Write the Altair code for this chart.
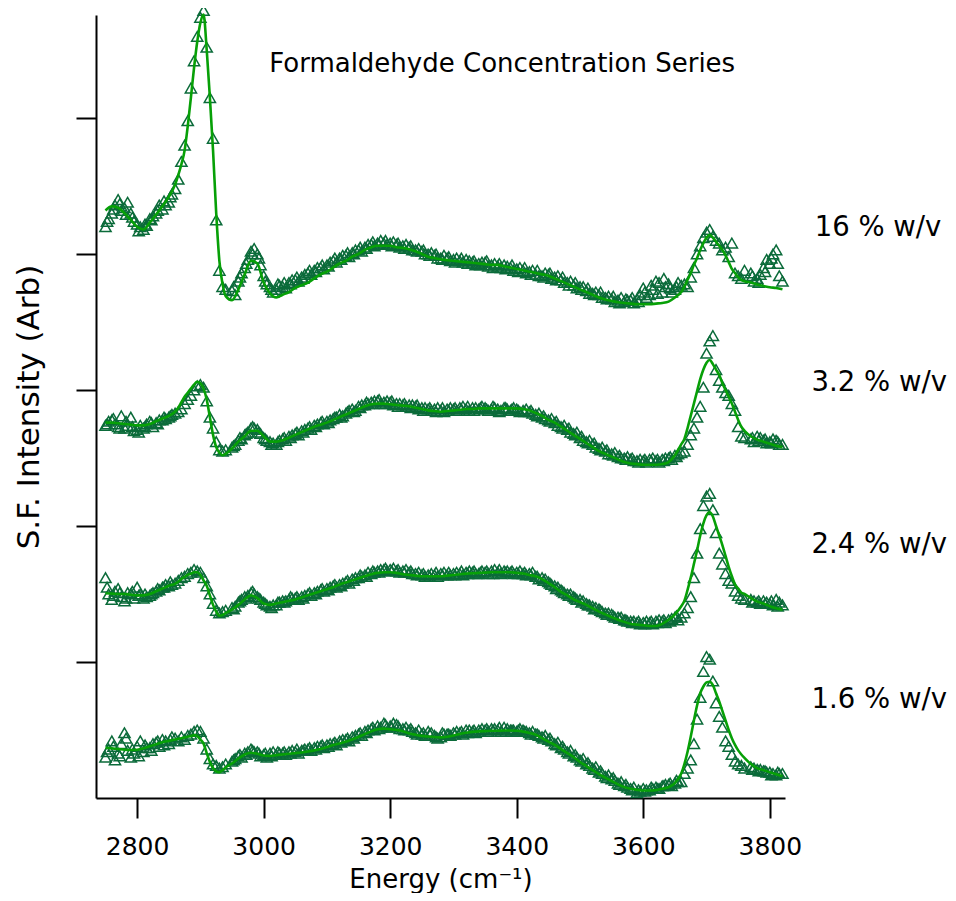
import altair as alt
import pandas as pd

# sample positions (cm^-1)
x_grid = (list(range(2750, 2861, 10)) + list(range(2865, 2941, 5)) +
          list(range(2950, 3661, 10)) + list(range(3665, 3761, 5)) +
          list(range(3770, 3821, 10)))
# in-between sample positions
x_grid_b = (list(range(2755, 2856, 10)) + list(range(2955, 3656, 10)) +
            list(range(3775, 3816, 10)))
x_grid_c = [v - 2.5 for v in x_grid_b]

series_names = ["16 % w/v", "3.2 % w/v", "2.4 % w/v", "1.6 % w/v"]

data_16 = [
    4.20, 4.30, 4.40, 4.34, 4.30, 4.22, 4.18, 4.26, 4.30, 4.33, 4.38, 4.48,
    4.55, 4.68, 4.80, 4.98, 5.22, 5.42, 5.60, 5.74, 5.79, 5.52, 5.15, 4.85, 4.25, 3.88, 3.76, 3.74,
    3.73, 3.80, 3.90, 4.02, 4.00, 3.84, 3.76, 3.74, 3.76, 3.79,
    3.81, 3.83, 3.86, 3.88, 3.90, 3.92, 3.95, 3.97, 3.99, 4.01,
    4.03, 4.05, 4.07, 4.08, 4.08, 4.08, 4.07, 4.06, 4.05, 4.03,
    4.02, 4.00, 3.99, 3.97, 3.97, 3.96, 3.95, 3.96, 3.94, 3.93,
    3.94, 3.92, 3.91, 3.92, 3.90, 3.89, 3.88, 3.87, 3.85, 3.84,
    3.85, 3.83, 3.81, 3.79, 3.77, 3.76, 3.73, 3.71, 3.70, 3.68,
    3.67, 3.66, 3.65, 3.66, 3.67, 3.75, 3.70, 3.80, 3.72, 3.78,
    3.74, 3.77,
    3.78, 3.76, 3.83, 3.90, 4.00, 4.06, 4.12, 4.16, 4.18, 4.13, 4.10, 4.08, 4.03, 4.05, 3.98, 4.08, 3.86, 3.84, 3.82, 3.88,
    3.86, 3.82, 3.90, 3.93, 4.03, 3.80,
]
data_16_b = [
    4.26, 4.36, 4.32, 4.38, 4.24, 4.20, 4.21, 4.28, 4.36, 4.36, 4.44,
    3.70, 3.86, 3.96, 4.04, 3.92, 3.78, 3.72, 3.77, 3.75, 3.81,
    3.80, 3.85, 3.85, 3.90, 3.89, 3.94, 3.94, 3.99, 3.98, 4.03,
    4.02, 4.07, 4.06, 4.10, 4.07, 4.09, 4.05, 4.07, 4.03, 4.04,
    4.00, 4.01, 3.97, 3.99, 3.95, 3.97, 3.94, 3.95, 3.92, 3.94,
    3.91, 3.93, 3.90, 3.91, 3.88, 3.90, 3.86, 3.88, 3.84, 3.86,
    3.82, 3.84, 3.79, 3.80, 3.75, 3.76, 3.71, 3.72, 3.68, 3.69,
    3.65, 3.68, 3.66, 3.64, 3.70, 3.68, 3.74, 3.79, 3.76, 3.72,
    3.79,
    3.80, 3.85, 3.96, 4.00, 3.84,
]
data_16_c = [
    4.24, 4.33, 4.37, 4.29, 4.27, 4.17, 4.22, 4.25, 4.32, 4.39, 4.42,
    3.76, 3.83, 3.93, 4.00, 3.97, 3.80, 3.74, 3.78, 3.79, 3.78,
    3.83, 3.82, 3.88, 3.87, 3.92, 3.91, 3.97, 3.96, 4.01, 4.00,
    4.05, 4.04, 4.09, 4.07, 4.10, 4.06, 4.08, 4.04, 4.06, 4.02,
    4.03, 3.99, 4.00, 3.96, 3.98, 3.94, 3.97, 3.93, 3.95, 3.92,
    3.95, 3.90, 3.93, 3.89, 3.92, 3.87, 3.90, 3.85, 3.88, 3.83,
    3.86, 3.81, 3.83, 3.77, 3.79, 3.74, 3.75, 3.70, 3.72, 3.67,
    3.69, 3.64, 3.67, 3.68, 3.65, 3.72, 3.77, 3.71, 3.82, 3.75,
    3.76,
    3.84, 3.79, 3.87, 3.97, 3.93,
]
fit_16 = [
    4.32, 4.35, 4.34, 4.30, 4.25, 4.20, 4.18, 4.23, 4.29, 4.35, 4.42, 4.51,
    4.58, 4.66, 4.76, 4.94, 5.15, 5.37, 5.56, 5.70, 5.76, 5.50, 5.15, 4.76, 4.30, 3.95, 3.78, 3.69,
    3.66, 3.74, 3.85, 3.95, 3.93, 3.79, 3.71, 3.68, 3.70, 3.72,
    3.75, 3.77, 3.79, 3.82, 3.85, 3.87, 3.90, 3.93, 3.95, 3.98,
    4.00, 4.03, 4.05, 4.06, 4.06, 4.06, 4.05, 4.045, 4.035, 4.02,
    4.00, 3.98, 3.97, 3.96, 3.955, 3.95, 3.945, 3.94, 3.935, 3.93,
    3.925, 3.92, 3.92, 3.91, 3.90, 3.89, 3.88, 3.87, 3.86, 3.85,
    3.84, 3.82, 3.80, 3.78, 3.76, 3.74, 3.72, 3.70, 3.68, 3.665,
    3.655, 3.645, 3.64, 3.635, 3.63, 3.63, 3.63, 3.635, 3.64, 3.65,
    3.68, 3.72,
    3.76, 3.81, 3.86, 3.92, 3.97, 4.03, 4.08, 4.12, 4.14, 4.12, 4.09, 4.06, 4.03, 3.99, 3.94, 3.89, 3.86, 3.83, 3.81, 3.80,
    3.79, 3.775, 3.765, 3.755, 3.75, 3.74,
]

data_32 = [
    2.74, 2.78, 2.73, 2.72, 2.80, 2.71, 2.72, 2.77, 2.76, 2.78, 2.80, 2.83,
    2.84, 2.86, 2.90, 2.93, 2.96, 3.00, 3.03, 3.04, 3.02, 2.92, 2.80, 2.72, 2.62, 2.56, 2.55, 2.56,
    2.58, 2.63, 2.67, 2.72, 2.71, 2.65, 2.62, 2.60, 2.64, 2.66,
    2.68, 2.70, 2.72, 2.74, 2.76, 2.77, 2.79, 2.82, 2.83, 2.86,
    2.88, 2.89, 2.91, 2.92, 2.91, 2.91, 2.90, 2.89, 2.89, 2.88,
    2.87, 2.86, 2.86, 2.85, 2.86, 2.86, 2.87, 2.86, 2.87, 2.86,
    2.87, 2.86, 2.86, 2.87, 2.85, 2.86, 2.85, 2.84, 2.82, 2.80,
    2.78, 2.76, 2.73, 2.71, 2.68, 2.65, 2.62, 2.60, 2.57, 2.55,
    2.53, 2.51, 2.50, 2.49, 2.48, 2.48, 2.49, 2.48, 2.49, 2.50,
    2.52, 2.54,
    2.55, 2.60, 2.67, 2.72, 2.80, 2.88, 3.02, 3.27, 3.36, 3.40, 3.15, 3.07, 3.02, 2.98, 2.96, 2.90, 2.85, 2.73, 2.66, 2.65,
    2.64, 2.66, 2.63, 2.62, 2.63, 2.60,
]
data_32_b = [
    2.77, 2.75, 2.81, 2.74, 2.70, 2.74, 2.75, 2.73, 2.78, 2.79, 2.82,
    2.60, 2.64, 2.69, 2.72, 2.68, 2.63, 2.61, 2.63, 2.63, 2.67,
    2.67, 2.71, 2.71, 2.75, 2.75, 2.78, 2.80, 2.81, 2.85, 2.85,
    2.89, 2.90, 2.92, 2.90, 2.92, 2.89, 2.90, 2.88, 2.89, 2.86,
    2.87, 2.85, 2.87, 2.84, 2.87, 2.85, 2.88, 2.85, 2.87, 2.88,
    2.85, 2.87, 2.85, 2.86, 2.87, 2.84, 2.86, 2.83, 2.83, 2.79,
    2.79, 2.74, 2.74, 2.69, 2.69, 2.63, 2.63, 2.58, 2.58, 2.53,
    2.54, 2.50, 2.51, 2.48, 2.49, 2.47, 2.50, 2.47, 2.50, 2.49,
    2.53,
    2.62, 2.65, 2.61, 2.64, 2.60,
]
data_32_c = [
    2.75, 2.79, 2.72, 2.77, 2.73, 2.69, 2.73, 2.76, 2.75, 2.80, 2.81,
    2.59, 2.65, 2.68, 2.73, 2.69, 2.64, 2.60, 2.62, 2.65, 2.65,
    2.69, 2.69, 2.73, 2.73, 2.77, 2.76, 2.80, 2.80, 2.84, 2.84,
    2.87, 2.91, 2.90, 2.93, 2.90, 2.92, 2.88, 2.90, 2.87, 2.89,
    2.85, 2.87, 2.84, 2.87, 2.85, 2.87, 2.86, 2.88, 2.85, 2.87,
    2.86, 2.88, 2.84, 2.87, 2.86, 2.85, 2.84, 2.85, 2.81, 2.81,
    2.77, 2.77, 2.72, 2.72, 2.67, 2.66, 2.61, 2.61, 2.56, 2.56,
    2.52, 2.52, 2.49, 2.50, 2.47, 2.49, 2.48, 2.49, 2.48, 2.51,
    2.51,
    2.65, 2.63, 2.64, 2.61, 2.62,
]
fit_32 = [
    2.76, 2.76, 2.755, 2.75, 2.745, 2.74, 2.74, 2.75, 2.77, 2.79, 2.81, 2.84,
    2.87, 2.91, 2.95, 2.98, 3.01, 3.04, 3.06, 3.05, 3.01, 2.93, 2.80, 2.67, 2.58, 2.54, 2.52, 2.53,
    2.57, 2.62, 2.66, 2.70, 2.70, 2.66, 2.62, 2.62, 2.63, 2.65,
    2.67, 2.69, 2.71, 2.73, 2.745, 2.76, 2.78, 2.80, 2.82, 2.84,
    2.86, 2.88, 2.895, 2.90, 2.90, 2.895, 2.89, 2.885, 2.88, 2.87,
    2.86, 2.85, 2.845, 2.84, 2.845, 2.85, 2.855, 2.86, 2.86, 2.865,
    2.865, 2.865, 2.865, 2.865, 2.865, 2.865, 2.86, 2.85, 2.83, 2.81,
    2.78, 2.76, 2.73, 2.70, 2.67, 2.64, 2.61, 2.58, 2.55, 2.53,
    2.51, 2.49, 2.47, 2.46, 2.455, 2.45, 2.45, 2.45, 2.455, 2.47,
    2.52, 2.60,
    2.64, 2.72, 2.81, 2.90, 2.99, 3.08, 3.15, 3.20, 3.22, 3.19, 3.15, 3.11, 3.05, 3.00, 2.95, 2.90, 2.84, 2.78, 2.73, 2.70,
    2.66, 2.635, 2.62, 2.605, 2.59, 2.58,
]

data_24 = [
    1.62, 1.46, 1.54, 1.45, 1.50, 1.55, 1.47, 1.49, 1.52, 1.55, 1.56, 1.58,
    1.60, 1.62, 1.63, 1.65, 1.66, 1.68, 1.67, 1.66, 1.62, 1.56, 1.50, 1.43, 1.38, 1.36, 1.37, 1.38,
    1.40, 1.44, 1.48, 1.51, 1.48, 1.44, 1.41, 1.42, 1.45, 1.46,
    1.47, 1.48, 1.50, 1.51, 1.53, 1.54, 1.56, 1.57, 1.59, 1.61,
    1.62, 1.64, 1.65, 1.67, 1.68, 1.68, 1.67, 1.67, 1.66, 1.65,
    1.64, 1.64, 1.64, 1.65, 1.64, 1.65, 1.65, 1.66, 1.66, 1.65,
    1.66, 1.67, 1.66, 1.67, 1.66, 1.66, 1.65, 1.65, 1.63, 1.62,
    1.59, 1.56, 1.53, 1.50, 1.48, 1.46, 1.43, 1.41, 1.39, 1.36,
    1.35, 1.33, 1.31, 1.30, 1.29, 1.29, 1.29, 1.30, 1.30, 1.31,
    1.33, 1.33,
    1.36, 1.40, 1.48, 1.62, 1.80, 1.98, 2.15, 2.22, 2.24, 2.12, 1.95, 1.80, 1.72, 1.65, 1.60, 1.58, 1.52, 1.49, 1.47, 1.46,
    1.46, 1.44, 1.45, 1.43, 1.46, 1.42,
]
data_24_b = [
    1.50, 1.52, 1.48, 1.51, 1.47, 1.50, 1.48, 1.51, 1.53, 1.57, 1.57,
    1.41, 1.46, 1.49, 1.50, 1.46, 1.42, 1.42, 1.44, 1.45, 1.47,
    1.46, 1.49, 1.49, 1.52, 1.52, 1.55, 1.55, 1.58, 1.58, 1.62,
    1.63, 1.66, 1.66, 1.68, 1.67, 1.69, 1.66, 1.68, 1.65, 1.66,
    1.63, 1.65, 1.63, 1.66, 1.64, 1.66, 1.64, 1.67, 1.65, 1.67,
    1.65, 1.68, 1.65, 1.67, 1.65, 1.67, 1.64, 1.66, 1.61, 1.61,
    1.57, 1.55, 1.51, 1.50, 1.46, 1.45, 1.42, 1.40, 1.37, 1.36,
    1.33, 1.33, 1.30, 1.30, 1.28, 1.30, 1.28, 1.31, 1.29, 1.32,
    1.31,
    1.45, 1.43, 1.44, 1.42, 1.44,
]
data_24_c = [
    1.55, 1.49, 1.51, 1.47, 1.52, 1.49, 1.50, 1.50, 1.54, 1.55, 1.59,
    1.39, 1.45, 1.47, 1.52, 1.47, 1.43, 1.40, 1.44, 1.44, 1.48,
    1.48, 1.47, 1.51, 1.50, 1.54, 1.53, 1.57, 1.56, 1.60, 1.60,
    1.64, 1.63, 1.67, 1.66, 1.69, 1.67, 1.68, 1.66, 1.67, 1.64,
    1.65, 1.63, 1.66, 1.64, 1.66, 1.64, 1.67, 1.65, 1.67, 1.66,
    1.67, 1.65, 1.68, 1.66, 1.67, 1.65, 1.66, 1.64, 1.63, 1.60,
    1.58, 1.54, 1.52, 1.49, 1.47, 1.44, 1.42, 1.39, 1.38, 1.35,
    1.34, 1.32, 1.31, 1.29, 1.30, 1.28, 1.30, 1.29, 1.31, 1.30,
    1.34,
    1.44, 1.45, 1.43, 1.45, 1.41,
]
fit_24 = [
    1.505, 1.503, 1.50, 1.50, 1.495, 1.49, 1.49, 1.50, 1.52, 1.54, 1.56, 1.575,
    1.59, 1.61, 1.625, 1.64, 1.65, 1.66, 1.66, 1.64, 1.60, 1.56, 1.49, 1.42, 1.37, 1.34, 1.345, 1.36,
    1.385, 1.42, 1.46, 1.49, 1.47, 1.43, 1.42, 1.43, 1.44, 1.45,
    1.46, 1.475, 1.49, 1.505, 1.52, 1.535, 1.55, 1.57, 1.585, 1.60,
    1.615, 1.63, 1.645, 1.655, 1.66, 1.66, 1.655, 1.645, 1.64, 1.635,
    1.63, 1.63, 1.63, 1.63, 1.635, 1.64, 1.645, 1.65, 1.652, 1.655,
    1.657, 1.66, 1.66, 1.66, 1.66, 1.655, 1.65, 1.64, 1.63, 1.61,
    1.58, 1.55, 1.515, 1.49, 1.46, 1.44, 1.42, 1.395, 1.37, 1.35,
    1.33, 1.31, 1.295, 1.28, 1.275, 1.27, 1.265, 1.265, 1.28, 1.31,
    1.35, 1.41,
    1.45, 1.53, 1.62, 1.72, 1.82, 1.93, 2.02, 2.08, 2.10, 2.07, 2.00, 1.93, 1.86, 1.78, 1.70, 1.63, 1.57, 1.54, 1.51, 1.50,
    1.47, 1.445, 1.43, 1.41, 1.395, 1.385,
]

data_16low = [
    0.30, 0.42, 0.33, 0.48, 0.30, 0.38, 0.34, 0.37, 0.41, 0.43, 0.40, 0.44,
    0.42, 0.45, 0.43, 0.46, 0.47, 0.49, 0.50, 0.49, 0.44, 0.36, 0.29, 0.25, 0.24, 0.22, 0.23, 0.25,
    0.27, 0.31, 0.33, 0.36, 0.34, 0.32, 0.33, 0.32, 0.33, 0.34,
    0.34, 0.35, 0.36, 0.37, 0.38, 0.39, 0.40, 0.42, 0.43, 0.45,
    0.47, 0.49, 0.51, 0.53, 0.55, 0.53, 0.54, 0.51, 0.50, 0.48,
    0.47, 0.49, 0.46, 0.45, 0.47, 0.48, 0.48, 0.50, 0.49, 0.50,
    0.50, 0.51, 0.50, 0.52, 0.50, 0.49, 0.50, 0.48, 0.47, 0.45,
    0.43, 0.40, 0.37, 0.34, 0.31, 0.28, 0.25, 0.22, 0.19, 0.16,
    0.14, 0.11, 0.09, 0.07, 0.04, 0.07, 0.06, 0.08, 0.09, 0.10,
    0.11, 0.12,
    0.18, 0.22, 0.28, 0.40, 0.58, 0.74, 0.93, 1.04, 1.02, 0.86, 0.70, 0.60, 0.52, 0.42, 0.38, 0.32, 0.27, 0.25, 0.24, 0.22,
    0.23, 0.21, 0.20, 0.19, 0.17, 0.18,
]
data_16low_b = [
    0.36, 0.28, 0.40, 0.35, 0.33, 0.42, 0.37, 0.40, 0.38, 0.42, 0.45,
    0.29, 0.30, 0.34, 0.34, 0.31, 0.30, 0.34, 0.33, 0.32, 0.35,
    0.33, 0.36, 0.35, 0.38, 0.37, 0.40, 0.39, 0.43, 0.42, 0.46,
    0.46, 0.50, 0.50, 0.52, 0.52, 0.55, 0.51, 0.52, 0.49, 0.50,
    0.46, 0.48, 0.44, 0.47, 0.46, 0.49, 0.47, 0.50, 0.48, 0.51,
    0.49, 0.51, 0.49, 0.51, 0.50, 0.51, 0.49, 0.49, 0.46, 0.46,
    0.42, 0.41, 0.36, 0.35, 0.30, 0.29, 0.24, 0.23, 0.18, 0.17,
    0.13, 0.12, 0.08, 0.08, 0.05, 0.06, 0.07, 0.07, 0.10, 0.09,
    0.12,
    0.22, 0.21, 0.19, 0.18, 0.18,
]
data_16low_c = [
    0.34, 0.38, 0.31, 0.44, 0.36, 0.31, 0.39, 0.35, 0.42, 0.39, 0.43,
    0.28, 0.32, 0.32, 0.35, 0.33, 0.33, 0.31, 0.34, 0.34, 0.33,
    0.36, 0.35, 0.37, 0.36, 0.39, 0.38, 0.41, 0.41, 0.44, 0.44,
    0.48, 0.48, 0.52, 0.51, 0.54, 0.52, 0.53, 0.50, 0.51, 0.47,
    0.48, 0.47, 0.45, 0.48, 0.47, 0.47, 0.49, 0.48, 0.50, 0.49,
    0.51, 0.50, 0.52, 0.49, 0.50, 0.50, 0.49, 0.47, 0.47, 0.44,
    0.44, 0.39, 0.38, 0.33, 0.32, 0.27, 0.26, 0.21, 0.20, 0.15,
    0.15, 0.10, 0.10, 0.06, 0.06, 0.05, 0.08, 0.07, 0.09, 0.11,
    0.13,
    0.21, 0.20, 0.20, 0.17, 0.19,
]
fit_16low = [
    0.37, 0.365, 0.36, 0.355, 0.353, 0.355, 0.365, 0.38, 0.395, 0.41, 0.42, 0.43,
    0.435, 0.44, 0.445, 0.45, 0.455, 0.462, 0.455, 0.43, 0.40, 0.33, 0.265, 0.22, 0.195, 0.19, 0.205, 0.225,
    0.255, 0.29, 0.32, 0.333, 0.325, 0.312, 0.31, 0.315, 0.32, 0.325,
    0.33, 0.335, 0.342, 0.35, 0.36, 0.375, 0.39, 0.40, 0.415, 0.43,
    0.45, 0.47, 0.49, 0.505, 0.51, 0.505, 0.50, 0.49, 0.475, 0.465,
    0.457, 0.452, 0.448, 0.446, 0.45, 0.46, 0.47, 0.48, 0.486, 0.49,
    0.492, 0.494, 0.495, 0.496, 0.496, 0.494, 0.488, 0.478, 0.465, 0.44,
    0.415, 0.39, 0.36, 0.33, 0.30, 0.265, 0.235, 0.205, 0.175, 0.15,
    0.125, 0.10, 0.08, 0.068, 0.06, 0.055, 0.055, 0.058, 0.068, 0.08,
    0.11, 0.18,
    0.25, 0.34, 0.45, 0.57, 0.68, 0.77, 0.82, 0.85, 0.855, 0.83, 0.77, 0.71, 0.64, 0.57, 0.50, 0.44, 0.39, 0.35, 0.32, 0.295,
    0.25, 0.22, 0.205, 0.19, 0.175, 0.16,
]

# label anchors (data units)
label_x = [3871, 3866, 3866, 3866]
label_y = [4.19, 3.05, 1.86, 0.72]

x_ticks = [2800, 3000, 3200, 3400, 3600, 3800]
y_ticks = [1, 2, 3, 4, 5]

all_data = [data_16, data_32, data_24, data_16low]
all_data_b = [data_16_b, data_32_b, data_24_b, data_16low_b]
all_data_c = [data_16_c, data_32_c, data_24_c, data_16low_c]
all_fit = [fit_16, fit_32, fit_24, fit_16low]
for arr in all_data + all_fit:
    assert len(arr) == len(x_grid), len(arr)
for arr in all_data_b + all_data_c:
    assert len(arr) == len(x_grid_b), len(arr)

pts = []
fit_rows = []
for name, d, db, dc, f in zip(series_names, all_data, all_data_b, all_data_c, all_fit):
    for xv, dv, fv in zip(x_grid, d, f):
        pts.append({"energy": xv, "series": name, "value": dv})
        fit_rows.append({"energy": xv, "series": name, "fit": fv})
    for xv, dv in zip(x_grid_b, db):
        pts.append({"energy": xv, "series": name, "value": dv})
    for xv, dv in zip(x_grid_c, dc):
        pts.append({"energy": xv, "series": name, "value": dv})
pts_df = pd.DataFrame(pts)
fit_df = pd.DataFrame(fit_rows)

labels_df = pd.DataFrame({"series": series_names, "lx": label_x, "ly": label_y})

FONT = "DejaVu Sans"
xs = alt.Scale(domain=[2735, 3824], nice=False, zero=False)
ys = alt.Scale(domain=[0, 5.757], nice=False, zero=False)

x_axis = alt.Axis(values=x_ticks, format="d", tickSize=20, tickWidth=2, domainWidth=2,
                  domainColor="black", tickColor="black", labelColor="black",
                  labelFont=FONT, labelFontSize=25, labelPadding=16,
                  title="Energy (cm⁻¹)", titleFont=FONT, titleFontSize=26,
                  titleFontWeight="normal", titleColor="black", titlePadding=7,
                  grid=False)
y_axis = alt.Axis(values=y_ticks, labels=False, tickSize=20, tickWidth=2,
                  domainWidth=2, domainColor="black", tickColor="black",
                  title="S.F. Intensity (Arb)", titleFont=FONT, titleFontSize=31,
                  titleFontWeight="normal", titleColor="black", titlePadding=30,
                  grid=False)

markers = alt.Chart(pts_df).mark_point(shape="triangle-up", filled=False, size=125,
                                       strokeWidth=1.5, color="#0B6B3A", opacity=1).encode(
    x=alt.X("energy:Q", scale=xs, axis=x_axis),
    y=alt.Y("value:Q", scale=ys, axis=y_axis),
    detail="series:N",
)

fits = alt.Chart(fit_df).mark_line(color="#07A007", strokeWidth=2.6,
                                   interpolate="monotone").encode(
    x=alt.X("energy:Q", scale=xs),
    y=alt.Y("fit:Q", scale=ys),
    detail="series:N",
)

labels = alt.Chart(labels_df).mark_text(align="left", baseline="middle",
                                        font=FONT, fontSize=27.5, color="black").encode(
    x=alt.X("lx:Q", scale=xs),
    y=alt.Y("ly:Q", scale=ys),
    text="series:N",
)

title = alt.Chart(pd.DataFrame({"t": ["Formaldehyde Concentration Series"],
                                "tx": [3377], "ty": [5.40]})).mark_text(
    align="center", baseline="middle", font=FONT, fontSize=26, color="black").encode(
    x=alt.X("tx:Q", scale=xs),
    y=alt.Y("ty:Q", scale=ys),
    text="t:N",
)

chart = alt.layer(markers, fits, labels, title).properties(
    width=689, height=783,
    autosize=alt.AutoSizeParams(type="none"),
    padding={"left": 88, "top": 7, "right": 163, "bottom": 95},
    background="white",
).configure_view(strokeWidth=0, stroke=None)

chart.save("out.html", embed_options={"renderer": "svg", "actions": False})
